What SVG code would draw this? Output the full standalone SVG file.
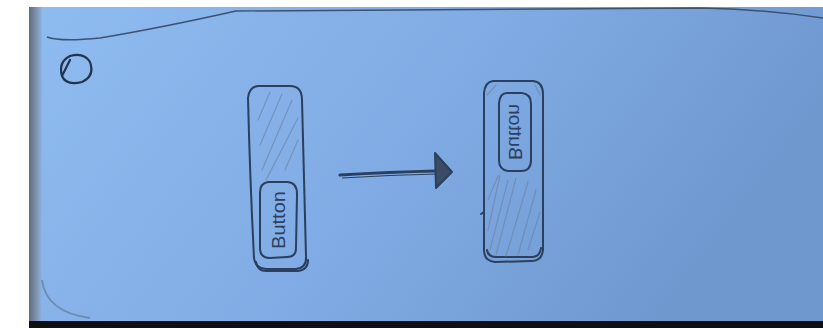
<svg xmlns="http://www.w3.org/2000/svg" width="823" height="328" viewBox="0 0 823 328">
<defs>
<linearGradient id="paper" x1="0" y1="0" x2="1" y2="0.3">
<stop offset="0" stop-color="#8fbcf0"/>
<stop offset="0.55" stop-color="#80abe4"/>
<stop offset="1" stop-color="#6f98cf"/>
</linearGradient>
<linearGradient id="edge" x1="0" y1="0" x2="1" y2="0">
<stop offset="0" stop-color="#5d6d82"/>
<stop offset="0.5" stop-color="#7d8ea6"/>
<stop offset="1" stop-color="#8fb3e0"/>
</linearGradient>
<style>
.ink{fill:none;stroke:#2b3f5e;stroke-width:2;stroke-linecap:round;stroke-linejoin:round}
.hatch{fill:none;stroke:#6f86a8;stroke-width:1.2;stroke-linecap:round;opacity:0.7}
.lbl{font-family:"Liberation Sans","DejaVu Sans",sans-serif;font-size:19px;fill:#2b3f5e;text-anchor:middle;dominant-baseline:central}
</style>
</defs>
<rect width="823" height="328" fill="#ffffff"/>
<rect x="29" y="7" width="794" height="316" fill="url(#paper)"/>
<rect x="29" y="7" width="13" height="316" fill="url(#edge)"/>
<path d="M42,280 Q46,312 90,318" fill="none" stroke="#5d7596" stroke-width="2" opacity="0.6"/>
<rect x="29" y="321" width="794" height="7" fill="#0e0f12"/>
<path d="M47,37 Q60,42 100,38 Q160,28 236,11 L700,8 Q760,9 823,18" fill="none" stroke="#3d5272" stroke-width="1.5"/>
<path d="M70,56 Q58,62 62,76 Q66,86 82,82 Q95,76 90,62 Q84,52 70,56 Z M62,76 L70,60" fill="none" stroke="#22344f" stroke-width="2.2" stroke-linecap="round"/>
<g id="left-screen">
<path class="ink" d="M258,86 Q249,87 248,98 Q250,180 254,258 Q255,268 266,269 L296,269 Q307,268 306,256 L302,100 Q302,86 290,86 Z"/>
<path class="ink" d="M256,262 Q258,272 268,271 L298,271 Q308,270 308,260"/>
<path class="hatch" d="M258,120 L270,92 M260,145 L282,94 M262,170 L292,100 M266,180 L298,118 M285,170 L298,140"/>
</g>
<g id="left-button">
<path class="ink" d="M268,182 L288,182 Q297,183 297,194 L296,248 Q296,257 287,257 L270,258 Q260,258 260,248 L260,193 Q260,183 268,182 Z"/>
<text class="lbl" transform="translate(278,220) rotate(-90)" textLength="58" lengthAdjust="spacingAndGlyphs">Button</text>
</g>
<g id="right-screen">
<path class="ink" d="M493,81 L533,81 Q543,82 543,94 L543,250 Q542,261 531,261 L495,262 Q484,261 484,250 L484,93 Q485,82 493,81 Z"/>
<path class="ink" d="M487,250 Q488,257 496,257 L533,257 Q540,256 541,248"/>
<path class="ink" d="M484,212 L481,214"/>
<path class="hatch" d="M487,95 L496,85 M535,85 L540,95 M488,230 L500,175 M490,250 L508,180 M496,255 L516,178 M506,256 L528,182 M518,255 L536,190 M528,250 L540,212 M488,200 L498,176"/>
</g>
<g id="right-button">
<path class="ink" d="M507,93 L522,93 Q531,94 531,104 L531,160 Q531,171 521,171 L508,171 Q499,170 499,160 L499,103 Q500,93 507,93 Z"/>
<text class="lbl" transform="translate(515,132) rotate(-90) scale(1,-1)" textLength="56" lengthAdjust="spacingAndGlyphs">Button</text>
</g>
<g id="connectors">
<path d="M340,175 Q390,172 436,171" fill="none" stroke="#2b3f5e" stroke-width="3.2" stroke-linecap="round"/>
<path d="M342,178 Q390,175 436,174" fill="none" stroke="#2b3f5e" stroke-width="1.2"/>
<path d="M435,153 L452,172 L436,188 Z" fill="#3a4c66" stroke="#2b3f5e" stroke-width="2" stroke-linejoin="round"/>
</g>
</svg>
